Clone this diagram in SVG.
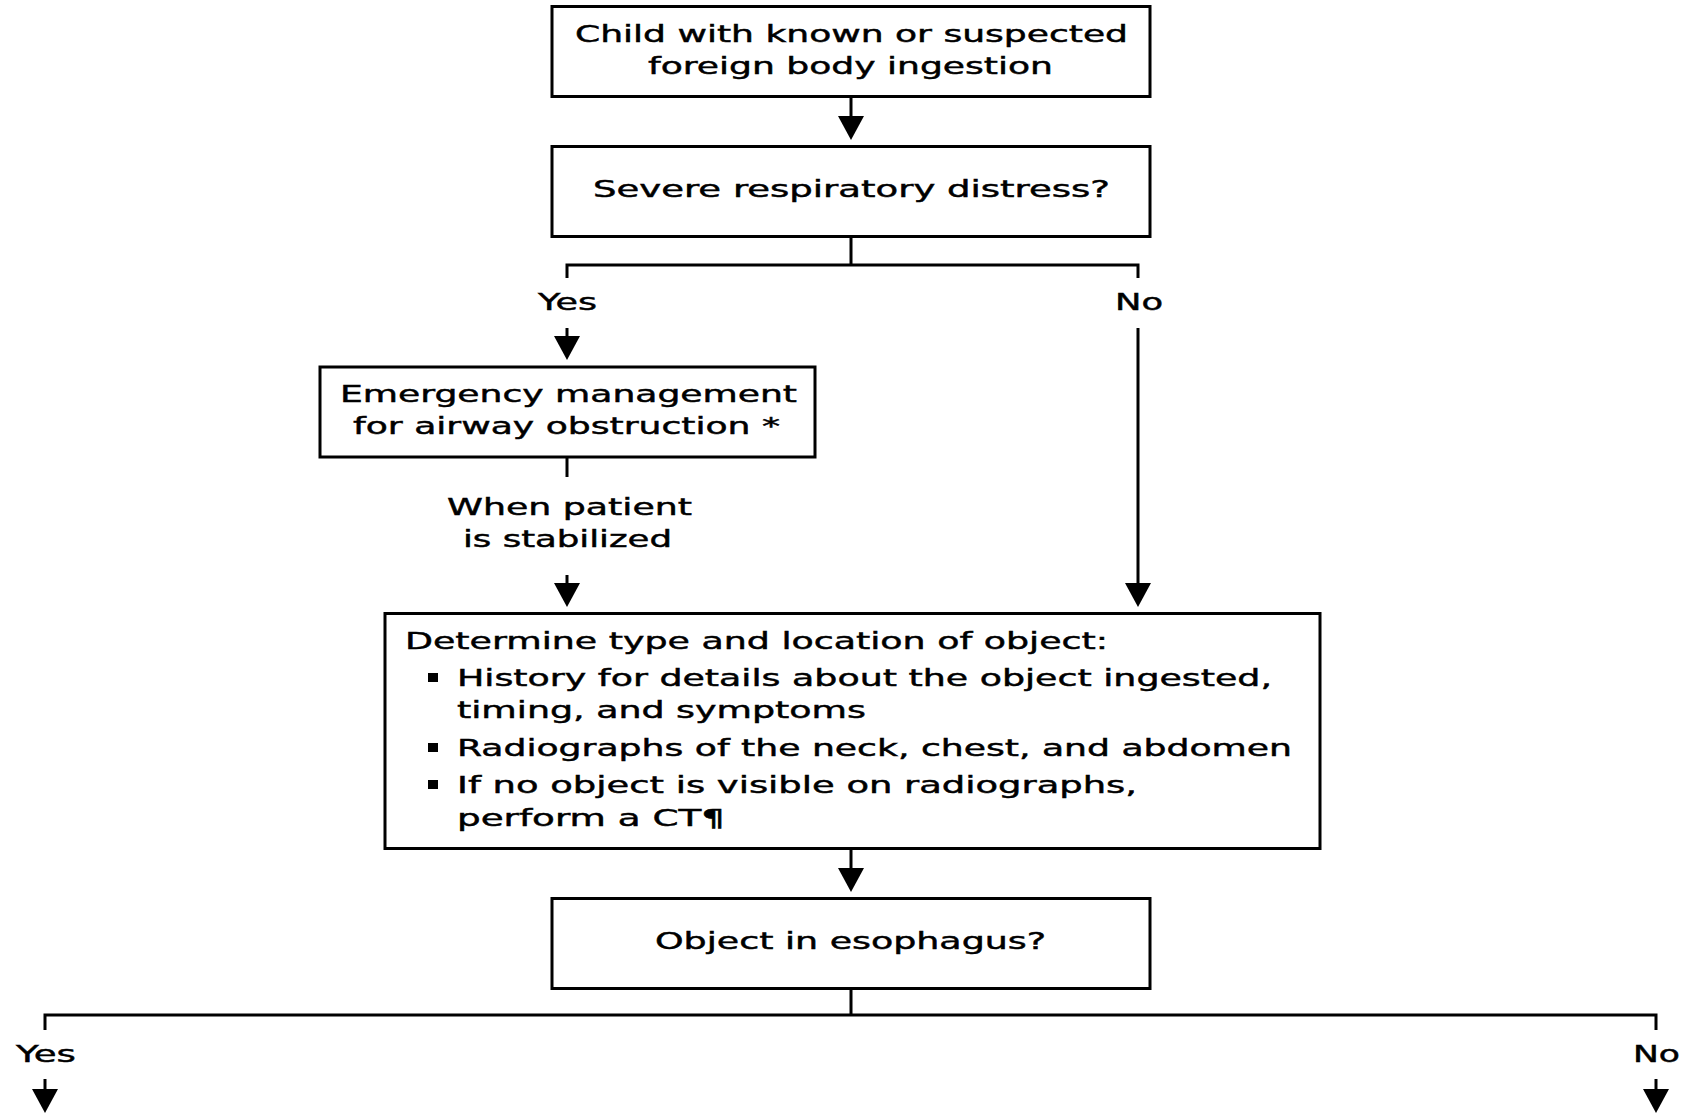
<svg xmlns="http://www.w3.org/2000/svg" width="1683" height="1117" viewBox="0 0 1683 1117">
<style>
  .box { fill: #fff; stroke: #000; stroke-width: 3; }
  .t { font-family: "DejaVu Sans", Verdana, sans-serif; font-size: 23px; fill: #000; stroke: #000; stroke-width: 0.45; }
  .c { fill: none; stroke: #000; stroke-width: 3; }
  .a { fill: none; stroke: #000; stroke-width: 3; marker-end: url(#arr); }
  .b { fill: #000; }
</style>
<defs>
  <marker id="arr" markerUnits="userSpaceOnUse" viewBox="0 0 24 26" refX="18" refY="13" markerWidth="24" markerHeight="26" orient="auto">
    <path d="M0,0 L24,13 L0,26 Z" fill="#000"/>
  </marker>
</defs>
<rect width="1683" height="1117" fill="#fff"/>

<g id="connectors">
  <path class="a" d="M851,97 V134"/>
  <path class="c" d="M851,237 V265 M567,278 V265 H1138 V278"/>
  <path class="a" d="M567,328 V354"/>
  <path class="a" d="M1138,328 V601"/>
  <path class="c" d="M567,457 V477"/>
  <path class="a" d="M567,575 V601"/>
  <path class="a" d="M851,849 V886"/>
  <path class="c" d="M851,989 V1015 M45,1030 V1015 H1656 V1030"/>
  <path class="a" d="M45,1079 V1107"/>
  <path class="a" d="M1656,1079 V1107"/>
  <text class="t" x="538" y="310" textLength="59" lengthAdjust="spacingAndGlyphs">Yes</text>
  <text class="t" x="1115" y="310" textLength="48" lengthAdjust="spacingAndGlyphs">No</text>
  <text class="t" x="447" y="515" textLength="245" lengthAdjust="spacingAndGlyphs">When patient</text>
  <text class="t" x="463" y="547" textLength="209" lengthAdjust="spacingAndGlyphs">is stabilized</text>
  <text class="t" x="16" y="1062" textLength="60" lengthAdjust="spacingAndGlyphs">Yes</text>
  <text class="t" x="1633" y="1062" textLength="47" lengthAdjust="spacingAndGlyphs">No</text>
</g>

<g id="node-start">
  <rect class="box" x="552" y="6.5" width="598" height="90"/>
  <text class="t" x="575" y="42" textLength="553" lengthAdjust="spacingAndGlyphs">Child with known or suspected</text>
  <text class="t" x="648" y="74" textLength="405" lengthAdjust="spacingAndGlyphs">foreign body ingestion</text>
</g>

<g id="node-distress">
  <rect class="box" x="552" y="146.5" width="598" height="90"/>
  <text class="t" x="593" y="197" textLength="517" lengthAdjust="spacingAndGlyphs">Severe respiratory distress?</text>
</g>

<g id="node-emergency">
  <rect class="box" x="320" y="367" width="495" height="90"/>
  <text class="t" x="340" y="402" textLength="457" lengthAdjust="spacingAndGlyphs">Emergency management</text>
  <text class="t" x="353" y="434" textLength="427" lengthAdjust="spacingAndGlyphs">for airway obstruction *</text>
</g>

<g id="node-determine">
  <rect class="box" x="385" y="613.5" width="935" height="235"/>
  <text class="t" x="405" y="649" textLength="703" lengthAdjust="spacingAndGlyphs">Determine type and location of object:</text>
  <rect class="b" x="428" y="673" width="10" height="9"/>
  <text class="t" x="457" y="686" textLength="815" lengthAdjust="spacingAndGlyphs">History for details about the object ingested,</text>
  <text class="t" x="457" y="718" textLength="409" lengthAdjust="spacingAndGlyphs">timing, and symptoms</text>
  <rect class="b" x="428" y="743" width="10" height="9"/>
  <text class="t" x="457" y="756" textLength="835" lengthAdjust="spacingAndGlyphs">Radiographs of the neck, chest, and abdomen</text>
  <rect class="b" x="428" y="780" width="10" height="9"/>
  <text class="t" x="457" y="793" textLength="680" lengthAdjust="spacingAndGlyphs">If no object is visible on radiographs,</text>
  <text class="t" x="457" y="826" textLength="268" lengthAdjust="spacingAndGlyphs">perform a CT¶</text>
</g>

<g id="node-esophagus">
  <rect class="box" x="552" y="898.5" width="598" height="90"/>
  <text class="t" x="655" y="949" textLength="391" lengthAdjust="spacingAndGlyphs">Object in esophagus?</text>
</g>
</svg>
